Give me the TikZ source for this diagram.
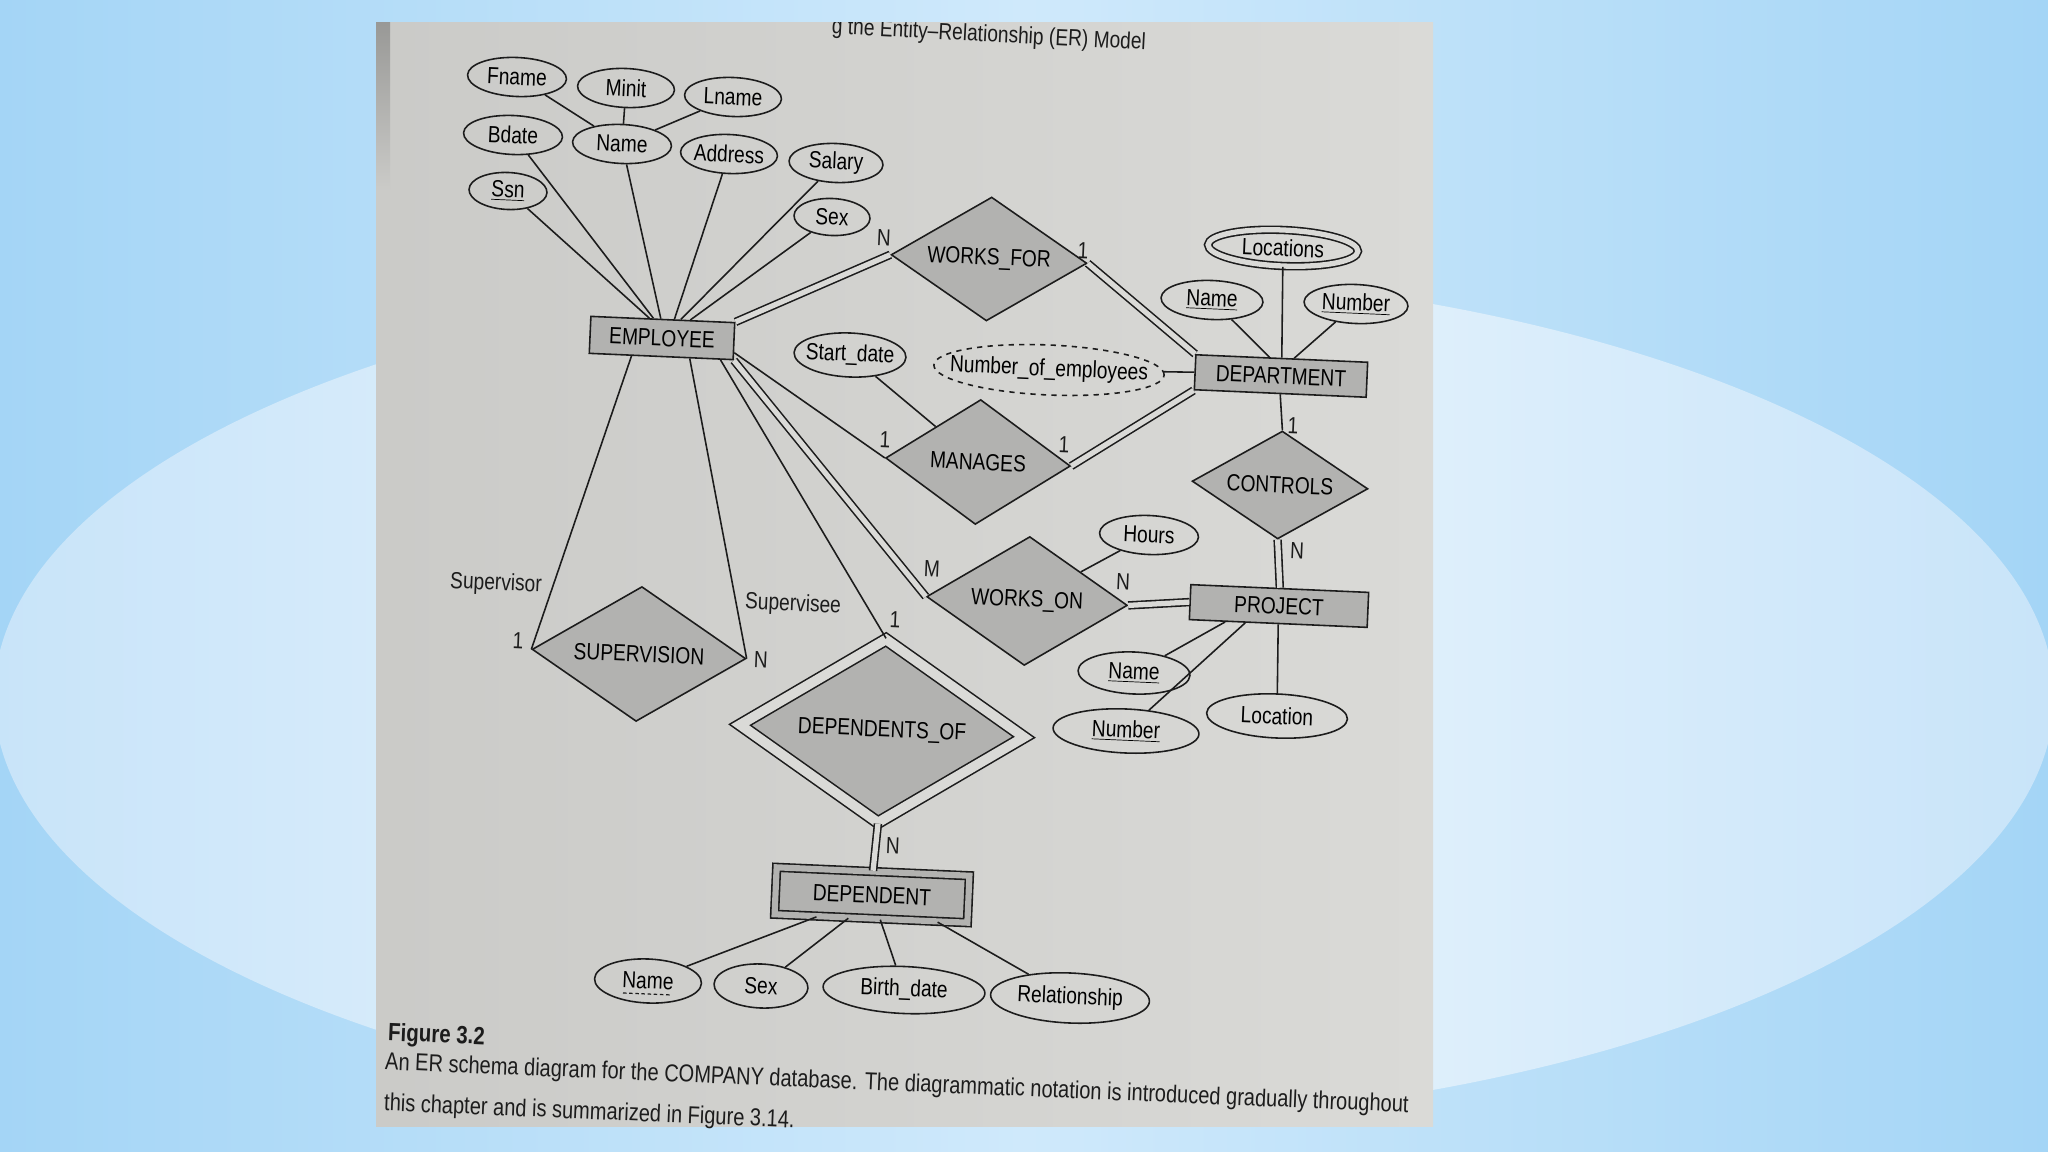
\documentclass[tikz,border=0pt]{standalone}
\usepackage{fontspec}
\setmainfont[FakeStretch=0.82]{Liberation Sans}
\usetikzlibrary{shapes.geometric}
\definecolor{ink}{RGB}{28,28,28}
\definecolor{paper}{RGB}{218,218,215}
\definecolor{boxfill}{RGB}{178,178,176}
\definecolor{sky}{RGB}{164,213,246}
\definecolor{skymid}{RGB}{207,233,251}
\definecolor{glowedge}{RGB}{200,228,249}
\definecolor{glow}{RGB}{236,246,253}

\begin{document}
\begin{tikzpicture}[x=0.02cm,y=-0.02cm,font=\fontsize{13.3}{15}\selectfont,
  er/.style={draw=ink,line width=0.9pt,rotate=-2.5,inner sep=0pt},
  attr/.style={er,ellipse,inner xsep=-3pt},
  ent/.style={er,rectangle,fill=boxfill},
  rel/.style={er,diamond,aspect=1.6,fill=boxfill},
  card/.style={rotate=-2.5,inner sep=1pt,text=ink},
  link/.style={draw=ink,line width=0.9pt},
  total/.style={link,double=paper,double distance=3pt},
  captext/.style={anchor=west,rotate=-2.4,text=ink,font=\fontsize{13.9}{16}\selectfont}]
\useasboundingbox (0,0) rectangle (2048,1152);

% slide background
\shade[left color=sky,right color=sky,middle color=skymid] (0,0) rectangle (2048,1152);
\shade[left color=glowedge,right color=glowedge,middle color=glow] (1024,697) ellipse [x radius=1030,y radius=428];

% photographed page
\shade[left color=paper!93!black,right color=paper] (376,23) rectangle (1433,1126);
\shade[top color=paper!70!black,bottom color=paper!93!black] (376,23) rectangle (390,190);
\begin{scope}
\clip (376,23) rectangle (1433,1126);
\node[anchor=east,rotate=-2.9,text=ink] (runhead) at (1152,44) {g the Entity–Relationship (ER) Model};
\end{scope}

% EMPLOYEE and its attributes
\node[ent,minimum width=2.88cm,minimum height=0.74cm] (emp) at (662,338) {EMPLOYEE};
\node[attr,minimum width=1.98cm,minimum height=0.78cm] (fname) at (517,77) {Fname};
\node[attr,minimum width=1.94cm,minimum height=0.78cm] (minit) at (626,88) {Minit};
\node[attr,minimum width=1.94cm,minimum height=0.78cm] (lname) at (733,97) {Lname};
\node[attr,minimum width=1.98cm,minimum height=0.78cm] (bdate) at (513,135) {Bdate};
\node[attr,minimum width=1.98cm,minimum height=0.78cm] (ename) at (622,144) {Name};
\node[attr,minimum width=1.94cm,minimum height=0.78cm] (addr) at (729,154) {Address};
\node[attr,minimum width=1.88cm,minimum height=0.78cm] (salary) at (836,163) {Salary};
\node[attr,minimum width=1.56cm,minimum height=0.74cm] (ssn) at (508,191) {\underline{Ssn}};
\node[attr,minimum width=1.52cm,minimum height=0.74cm] (esex) at (832,217) {Sex};

% DEPARTMENT and its attributes
\node[ent,minimum width=3.44cm,minimum height=0.70cm] (dept) at (1281,376) {DEPARTMENT};
\node[attr,double=paper,double distance=3pt,minimum width=3.0cm,minimum height=0.72cm] (loc) at (1283,248) {Locations};
\node[attr,minimum width=2.04cm,minimum height=0.78cm] (dname) at (1212,300) {\underline{Name}};
\node[attr,minimum width=2.08cm,minimum height=0.78cm] (dnum) at (1356,304) {\underline{Number}};
\node[attr,dashed,minimum width=4.6cm,minimum height=1.0cm,inner xsep=-10pt] (ne) at (1049,370) {Number\_of\_employees};

% PROJECT and its attributes
\node[ent,minimum width=3.56cm,minimum height=0.70cm] (proj) at (1279,606) {PROJECT};
\node[attr,minimum width=2.24cm,minimum height=0.84cm] (pname) at (1134,673) {\underline{Name}};
\node[attr,minimum width=2.92cm,minimum height=0.88cm] (pnum) at (1126,731) {\underline{Number}};
\node[attr,minimum width=2.82cm,minimum height=0.88cm] (ploc) at (1277,716) {Location};

% DEPENDENT and its attributes
\node[ent,double=boxfill,double distance=3.5pt,minimum width=3.86cm,minimum height=0.94cm] (dep) at (872,895) {DEPENDENT};
\node[attr,minimum width=2.14cm,minimum height=0.88cm] (depname) at (648,981) {Name};
\draw[ink,line width=0.7pt,dash pattern=on 2pt off 1.5pt] ([shift={(-25,12)}]depname.center) -- ([shift={(24,14)}]depname.center);
\node[attr,minimum width=1.88cm,minimum height=0.88cm] (depsex) at (761,986) {Sex};
\node[attr,minimum width=3.24cm,minimum height=0.94cm] (bdate2) at (904,990) {Birth\_date};
\node[attr,minimum width=3.18cm,minimum height=1.0cm] (relship) at (1070,998) {Relationship};

% relationships
\node[rel,minimum width=3.92cm,minimum height=2.48cm] (wf) at (989,259) {WORKS\_FOR};
\node[rel,minimum width=3.7cm,minimum height=2.5cm] (man) at (978,462) {MANAGES};
\node[attr,minimum width=2.24cm,minimum height=0.88cm] (sd) at (850,355) {Start\_date};
\node[rel,minimum width=3.52cm,minimum height=2.16cm] (ctrl) at (1280,485) {CONTROLS};
\node[rel,minimum width=4.02cm,minimum height=2.58cm] (wo) at (1027,601) {WORKS\_ON};
\node[attr,minimum width=1.98cm,minimum height=0.78cm] (hours) at (1149,535) {Hours};
\node[rel,minimum width=4.28cm,minimum height=2.7cm] (sup) at (639,654) {SUPERVISION};
\node[rel,double=paper,double distance=5.5pt,minimum width=5.7cm,minimum height=3.68cm] (depof) at (882,731) {DEPENDENTS\_OF};

% attribute links
\draw[link] (fname) -- (ename);
\draw[link] (minit) -- (ename);
\draw[link] (lname) -- (ename);
\draw[link] (ssn) -- (emp.125);
\draw[link] (bdate) -- (emp.116);
\draw[link] (ename) -- (emp.96);
\draw[link] (addr) -- (emp.59);
\draw[link] (salary) -- (emp.47);
\draw[link] (esex) -- (emp.35);
\draw[link] (loc) -- (dept.north);
\draw[link] (dname) -- (dept.124);
\draw[link] (dnum) -- (dept.56);
\draw[link] (ne) -- (dept.west);
\draw[link] (sd) -- (man);
\draw[link] (hours) -- (wo);
\draw[link] (pname) -- (proj.-161);
\draw[link] (pnum) -- (proj.-151);
\draw[link] (ploc) -- (proj.south);
\draw[link] (dep.-156) -- (depname);
\draw[link] (dep.-133) -- (depsex);
\draw[link] (dep.-69) -- (bdate2);
\draw[link] (dep.-20) -- (relship);

% relationship links
\draw[total] (emp.north east) -- (wf.west);
\draw[total] (wf.east) -- (dept.north west);
\draw[link] (emp.-9) -- (man.west);
\draw[total] (man.east) -- (dept.south west);
\draw[link] (dept.south) -- (ctrl.north);
\draw[total] (ctrl.south) -- (proj.north);
\draw[total] (emp.south east) -- (wo.west);
\draw[total] (wo.east) -- (proj.west);
\draw[link] (emp.-147) -- (sup.west);
\draw[link] (emp.-34) -- (sup.east);
\draw[link] (emp.-18) -- (depof.north);
\draw[total] (depof.south) -- (dep.north);

% cardinalities and roles
\node[card] (nWF) at (884,238) {N};
\node[card] (oneWF) at (1083,251) {1};
\node[card] (oneManL) at (885,440) {1};
\node[card] (oneManR) at (1064,445) {1};
\node[card] (oneCtrl) at (1293,426) {1};
\node[card] (nCtrl) at (1297,551) {N};
\node[card] (mWO) at (932,569) {M};
\node[card] (nWO) at (1123,582) {N};
\node[card] (roleSup) at (496,584) {Supervisor};
\node[card] (oneSup) at (518,641) {1};
\node[card] (roleSub) at (793,605) {Supervisee};
\node[card] (nSup) at (761,660) {N};
\node[card] (oneDep) at (895,620) {1};
\node[card] (nDep) at (893,846) {N};

% caption
\node[captext,font=\fontsize{14.2}{16}\selectfont\bfseries] (figno) at (382,1034) {Figure 3.2};
\node[captext] (capA) at (379,1063) {An ER schema diagram for the COMPANY database. The diagrammatic notation is introduced gradually throughout};
\node[captext] (capB) at (378,1104) {this chapter and is summarized in Figure 3.14.};
\end{tikzpicture}
\end{document}
